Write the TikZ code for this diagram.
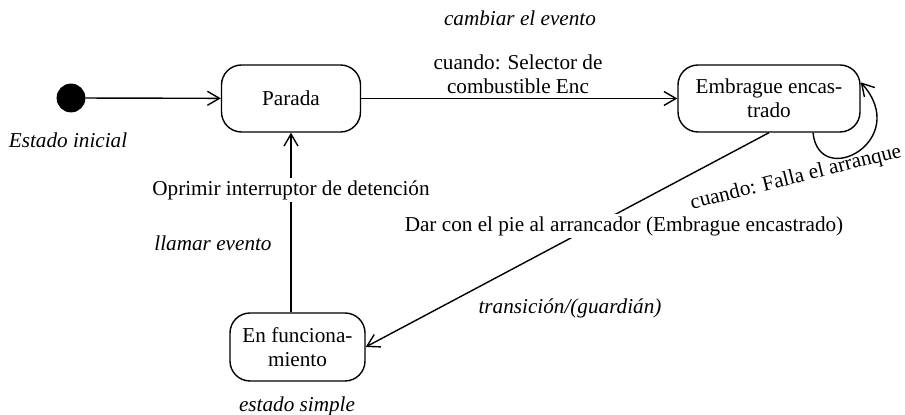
\documentclass[tikz,border=0pt]{standalone}
\usepackage{fontspec}
\setmainfont{Liberation Serif}
\usepackage{tikz}
\usetikzlibrary{arrows.meta, positioning}

\begin{document}
\begin{tikzpicture}[
    x=0.5pt, y=-0.5pt,
    every node/.style={font=\fontsize{10.6}{12.2}\selectfont},
    state/.style ={rectangle, rounded corners=10pt, draw, line width=0.7pt, align=center, inner sep=0pt},
    initial/.style={circle, fill=black, draw, minimum size=14pt, inner sep=0pt},
    note/.style  ={font=\fontsize{10.6}{12.2}\selectfont\itshape},
    trans/.style ={-{Straight Barb[length=6pt, width=7pt]}, line width=0.7pt},
    lbl/.style   ={fill=white, inner sep=1pt, align=center}
]
\useasboundingbox (0,0) rectangle (905,415);
\node[initial] (ini) at (71,98) {};
\node[state, minimum width=69.5pt, minimum height=33.5pt] (par) at (291,98.5) {Parada};
\node[state, minimum width=91pt, minimum height=33.5pt] (emb) at (769,98.5) {Embrague encas-\\trado};
\node[state, minimum width=67.5pt, minimum height=34pt] (fun) at (297.5,347) {En funciona-\\miento};
\draw[trans] (ini) -- (par);
\draw[trans] (par) -- (emb);
\draw[trans] (fun.north -| par.south) -- (par.south);
\draw[trans] (emb.south) -- (fun.east);
\draw[trans] ([xshift=22pt]emb.south) .. controls +(6,58) and +(52,58) .. ([yshift=-9pt]emb.north east);
% labels
\node[lbl] (sel) at (518,74) {cuando: Selector de\\combustible Enc};
\node[lbl] (opr) at (291,190) {Oprimir interruptor de detención};
\node[lbl] (dar) at (624,226) {Dar con el pie al arrancador (Embrague encastrado)};
\node[rotate=14, inner sep=0pt] (fal) at (796,178) {cuando: Falla el arranque};
\node[note] (ev) at (520,18) {cambiar el evento};
\node[note] (ei) at (68,140) {Estado inicial};
\node[note] (ll) at (213,243) {llamar evento};
\node[note] (tg) at (570,308) {transición/(guardián)};
\node[note] (es) at (297,406) {estado simple};
\end{tikzpicture}
\end{document}
